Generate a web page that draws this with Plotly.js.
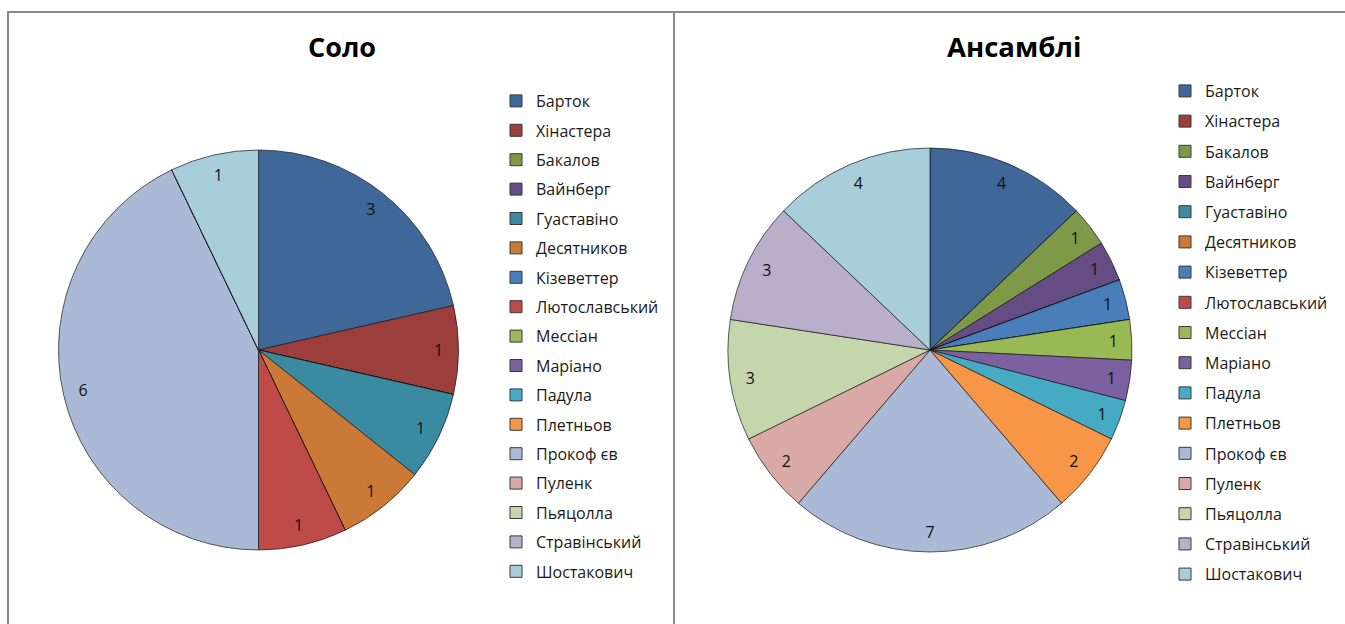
<!DOCTYPE html>
<html>
<head>
<meta charset="utf-8">
<script src="https://cdn.plot.ly/plotly-3.0.1.min.js"></script>
<style>
html,body{margin:0;padding:0;background:#fff;}
#chart{width:1345px;height:624px;}
</style>
</head>
<body>
<div id="chart"></div>
<script>
const composers = ["Барток","Хінастера","Бакалов","Вайнберг","Гуаставіно","Десятников","Кізеветтер","Лютославський","Мессіан","Маріано","Падула","Плетньов","Прокоф єв","Пуленк","Пьяцолла","Стравінський","Шостакович"];
const soloValues = [3,1,0,0,1,1,0,1,0,0,0,0,6,0,0,0,1];
const ensembleValues = [4,0,1,1,0,0,1,0,1,1,1,2,7,2,3,3,4];
const sliceColors = ["#3F6899","#9C3F3C","#7E9A48","#654D83","#3A8AA1","#CB7936","#4A7EBB","#BE4B48","#98B954","#7D60A0","#46AAC5","#F69646","#AAB9D6","#D9A9A8","#C5D6AC","#B9AFCA","#A8CEDC"];
const titles = ["Соло","Ансамблі"];

const W = 1345, H = 624;
const FONT = "'Open Sans', Lato, sans-serif";

function px(x){return x/W;}
function py(y){return 1 - y/H;}

const soloDomain = {x:[px(58.5),px(458.5)], y:[py(550),py(150)]};
const ensDomain = {x:[px(728),px(1132)], y:[py(552),py(148)]};

function pieTrace(values, domain){
  return {
    type:"pie", labels:composers, values:values, domain:domain,
    sort:false, direction:"clockwise", rotation:0,
    marker:{colors:sliceColors, line:{color:"rgba(20,20,20,0.85)", width:0.8}},
    textinfo:"none", hoverinfo:"label+value", showlegend:false
  };
}
function labelTrace(values, domain){
  const labs=[], vals=[];
  values.forEach((v,i)=>{ if(v>0){labs.push(composers[i]); vals.push(v);} });
  return {
    type:"pie", labels:labs, values:vals, domain:domain, hole:0.8,
    sort:false, direction:"clockwise", rotation:0,
    marker:{colors:labs.map(()=> "rgba(0,0,0,0)"), line:{width:0}},
    textinfo:"value", textposition:"inside", insidetextorientation:"horizontal",
    insidetextfont:{family:FONT, size:16, color:"#111"},
    showlegend:false, hoverinfo:"skip"
  };
}
// legend entries (one per composer, per chart); no visible bar (y is null)
function legendTraces(legendId, prefix){
  return composers.map((name,i)=>({
    type:"bar", x:[name], y:[null], name:name, legend:legendId, legendgroup:prefix+i,
    marker:{color:sliceColors[i], line:{color:"#3a3a3a", width:1}},
    showlegend:true, hoverinfo:"skip"
  }));
}

const data = [
  pieTrace(soloValues, soloDomain),
  pieTrace(ensembleValues, ensDomain),
  labelTrace(soloValues, soloDomain),
  labelTrace(ensembleValues, ensDomain),
  ...legendTraces("legend","s"),
  ...legendTraces("legend2","e")
];

const legendFont = {family:FONT, size:16, color:"#1a1a1a"};
const layout = {
  width:W, height:H,
  margin:{l:0,r:0,t:0,b:0},
  paper_bgcolor:"#fff", plot_bgcolor:"rgba(0,0,0,0)",
  xaxis:{visible:false}, yaxis:{visible:false},
  legend:{x:px(496), y:py(84), xanchor:"left", yanchor:"top", font:legendFont, bgcolor:"rgba(0,0,0,0)", traceorder:"grouped", tracegroupgap:5.6},
  legend2:{x:px(1165), y:py(74), xanchor:"left", yanchor:"top", font:legendFont, bgcolor:"rgba(0,0,0,0)", traceorder:"grouped", tracegroupgap:6.4},
  annotations:[
    {text:"<b>"+titles[0]+"</b>", x:px(342), y:py(47), xref:"paper", yref:"paper", xanchor:"center", yanchor:"middle", showarrow:false, font:{family:FONT, size:27, color:"#000"}},
    {text:"<b>"+titles[1]+"</b>", x:px(1014), y:py(47), xref:"paper", yref:"paper", xanchor:"center", yanchor:"middle", showarrow:false, font:{family:FONT, size:27.5, color:"#000"}}
  ],
  shapes:[
    {type:"rect", xref:"paper", yref:"paper", x0:px(8), x1:px(674), y0:py(640), y1:py(12), line:{color:"#8a8a8a", width:2}},
    {type:"rect", xref:"paper", yref:"paper", x0:px(674), x1:px(1360), y0:py(640), y1:py(12), line:{color:"#8a8a8a", width:2}}
  ]
};

Plotly.newPlot("chart", data, layout, {staticPlot:true});
</script>
</body>
</html>
